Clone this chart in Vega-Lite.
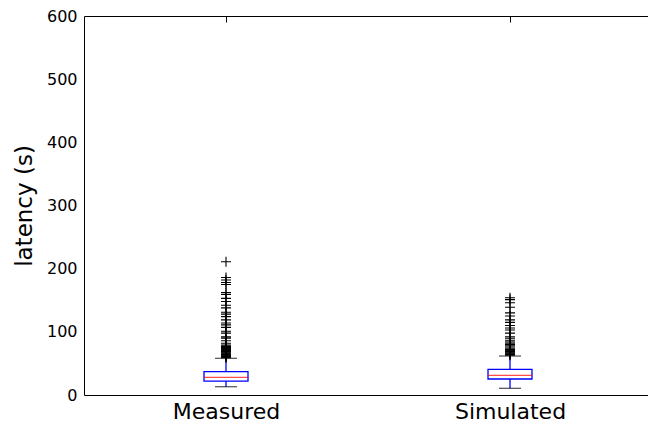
{
  "$schema": "https://vega.github.io/schema/vega-lite/v6.json",
  "width": 568,
  "height": 379,
  "autosize": {"type": "none"},
  "padding": {"left": 84, "top": 16, "right": -4, "bottom": 32},
  "background": "white",
  "config": {
    "font": "DejaVu Sans",
    "view": {"stroke": "black", "strokeWidth": 1},
    "axis": {"domain": false, "ticks": false, "grid": true, "gridColor": "black", "gridOpacity": 1, "gridWidth": 1, "gridDash": [6, 2000], "zindex": 1, "labelColor": "black", "titleColor": "black", "labelFont": "DejaVu Sans", "titleFont": "DejaVu Sans", "titleFontWeight": "normal"}
  },
  "datasets": {
    "stats": [
      {"group": "Measured", "lower": 13.1, "q1": 22, "median": 28, "q3": 36.9, "upper": 58.1},
      {"group": "Simulated", "lower": 10.6, "q1": 25.3, "median": 31.2, "q3": 40.7, "upper": 61.7}
    ],
    "outliers": [
      {"group": "Measured", "value": 211}, {"group": "Measured", "value": 186}, {"group": "Measured", "value": 182},
      {"group": "Measured", "value": 178}, {"group": "Measured", "value": 175}, {"group": "Measured", "value": 162},
      {"group": "Measured", "value": 159}, {"group": "Measured", "value": 153}, {"group": "Measured", "value": 148},
      {"group": "Measured", "value": 142}, {"group": "Measured", "value": 138}, {"group": "Measured", "value": 131},
      {"group": "Measured", "value": 128}, {"group": "Measured", "value": 124}, {"group": "Measured", "value": 119},
      {"group": "Measured", "value": 114}, {"group": "Measured", "value": 111}, {"group": "Measured", "value": 107},
      {"group": "Measured", "value": 101}, {"group": "Measured", "value": 98}, {"group": "Measured", "value": 92},
      {"group": "Measured", "value": 90}, {"group": "Measured", "value": 86}, {"group": "Measured", "value": 82},
      {"group": "Measured", "value": 79}, {"group": "Measured", "value": 77}, {"group": "Measured", "value": 76},
      {"group": "Measured", "value": 75}, {"group": "Measured", "value": 74}, {"group": "Measured", "value": 73},
      {"group": "Measured", "value": 72}, {"group": "Measured", "value": 71}, {"group": "Measured", "value": 70},
      {"group": "Measured", "value": 69}, {"group": "Measured", "value": 68}, {"group": "Measured", "value": 67},
      {"group": "Measured", "value": 66}, {"group": "Measured", "value": 65}, {"group": "Measured", "value": 64},
      {"group": "Measured", "value": 63}, {"group": "Measured", "value": 62}, {"group": "Measured", "value": 61},
      {"group": "Measured", "value": 60}, {"group": "Measured", "value": 59},
      {"group": "Simulated", "value": 154}, {"group": "Simulated", "value": 151}, {"group": "Simulated", "value": 146},
      {"group": "Simulated", "value": 139}, {"group": "Simulated", "value": 130}, {"group": "Simulated", "value": 125},
      {"group": "Simulated", "value": 119}, {"group": "Simulated", "value": 115}, {"group": "Simulated", "value": 110},
      {"group": "Simulated", "value": 106}, {"group": "Simulated", "value": 103}, {"group": "Simulated", "value": 98},
      {"group": "Simulated", "value": 92}, {"group": "Simulated", "value": 89}, {"group": "Simulated", "value": 86},
      {"group": "Simulated", "value": 84}, {"group": "Simulated", "value": 82}, {"group": "Simulated", "value": 80},
      {"group": "Simulated", "value": 78}, {"group": "Simulated", "value": 76}, {"group": "Simulated", "value": 74},
      {"group": "Simulated", "value": 72}, {"group": "Simulated", "value": 71}, {"group": "Simulated", "value": 70},
      {"group": "Simulated", "value": 69}, {"group": "Simulated", "value": 68}, {"group": "Simulated", "value": 67},
      {"group": "Simulated", "value": 66}, {"group": "Simulated", "value": 65}, {"group": "Simulated", "value": 64},
      {"group": "Simulated", "value": 63}
    ]
  },
  "encoding": {
    "x": {
      "field": "group", "type": "nominal",
      "scale": {"type": "point", "padding": 0.5, "domain": ["Measured", "Simulated"]},
      "axis": {"title": null, "labelAngle": 0, "labelFontSize": 22, "labelPadding": 6}
    }
  },
  "layer": [
    {
      "data": {"name": "stats"},
      "mark": {"type": "rule", "color": "#0000ff", "strokeWidth": 1.3},
      "encoding": {
        "y": {"field": "lower", "type": "quantitative", "scale": {"domain": [0, 600]},
          "axis": {"title": "latency (s)", "titleFontSize": 23, "labelFontSize": 16, "values": [0, 100, 200, 300, 400, 500, 600], "labelPadding": 7, "titlePadding": 10, "grid": false}},
        "y2": {"field": "upper"}
      }
    },
    {
      "data": {"name": "stats"},
      "mark": {"type": "bar", "fill": "white", "stroke": "#0000ff", "strokeWidth": 1.3, "size": 44},
      "encoding": {
        "y": {"field": "q1", "type": "quantitative"},
        "y2": {"field": "q3"}
      }
    },
    {
      "data": {"name": "stats"},
      "mark": {"type": "tick", "color": "#ff0000", "size": 44, "thickness": 1.3, "orient": "horizontal"},
      "encoding": {"y": {"field": "median", "type": "quantitative"}}
    },
    {
      "data": {"name": "stats"},
      "mark": {"type": "tick", "color": "black", "size": 22, "thickness": 1.2, "orient": "horizontal"},
      "encoding": {"y": {"field": "lower", "type": "quantitative"}}
    },
    {
      "data": {"name": "stats"},
      "mark": {"type": "tick", "color": "black", "size": 22, "thickness": 1.2, "orient": "horizontal"},
      "encoding": {"y": {"field": "upper", "type": "quantitative"}}
    },
    {
      "data": {"name": "outliers"},
      "mark": {"type": "point", "shape": "M-1,0H1M0,-1V1", "size": 100, "filled": false, "stroke": "black", "strokeWidth": 1.1, "opacity": 1},
      "encoding": {"y": {"field": "value", "type": "quantitative"}}
    }
  ]
}
